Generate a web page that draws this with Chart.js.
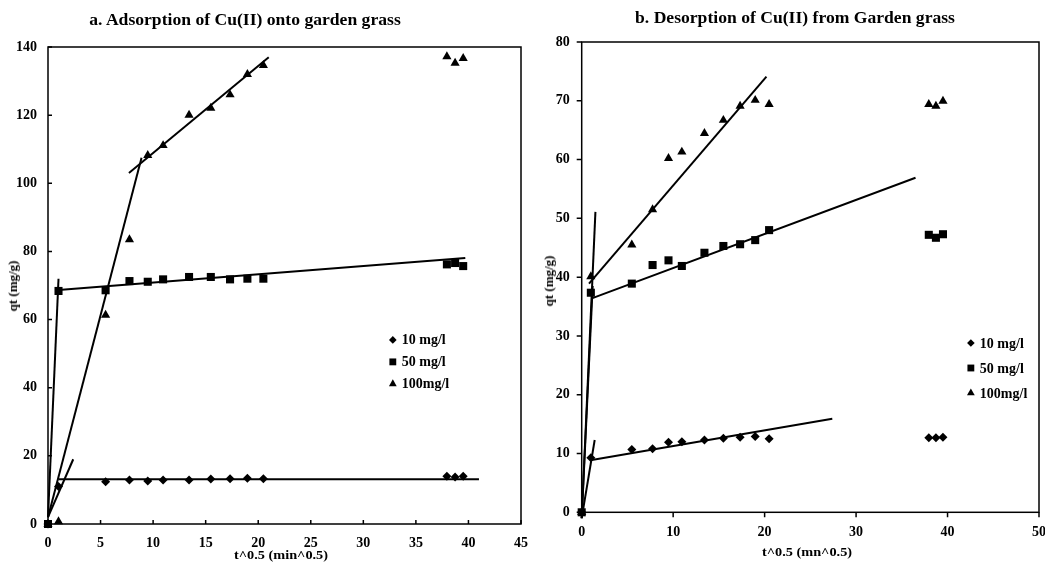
<!DOCTYPE html>
<html>
<head>
<meta charset="utf-8">
<script src="https://cdn.jsdelivr.net/npm/chart.js@4/dist/chart.umd.min.js"></script>
<style>
  html, body { margin: 0; padding: 0; background: #fff; overflow: hidden; }
  body { width: 1045px; height: 563px; position: relative; }
  canvas { position: absolute; top: 0; }
  #left { left: 0; }
  #right { left: 525px; }
  .txt {
    position: absolute;
    font-family: "Liberation Serif", "Times New Roman", serif;
    font-weight: bold;
    color: #000;
    white-space: nowrap;
    transform: translate(-50%, -50%) scaleX(1.1);
  }
  .title { font-size: 16px; }
  .axis { font-size: 13px; }
  .rot { transform: translate(-50%, -50%) rotate(-90deg); }
</style>
</head>
<body>
<canvas id="left" width="539" height="563"></canvas>
<canvas id="right" width="533" height="563"></canvas>

<div class="txt title" style="left:245px; top:20px;">a. Adsorption of Cu(II) onto garden grass</div>
<div class="txt title" style="left:795px; top:18px;">b. Desorption of Cu(II) from Garden grass</div>
<div class="txt axis" style="left:281px; top:555px;">t^0.5 (min^0.5)</div>
<div class="txt axis" style="left:807px; top:552px;">t^0.5 (mn^0.5)</div>
<div class="txt axis rot" style="left:13px; top:286px;">qt (mg/g)</div>
<div class="txt axis rot" style="left:549px; top:281px;">qt (mg/g)</div>

<script>
// sqrt of contact time (min^0.5), same for every series
const tSqrt = [0, 1, 5.48, 7.75, 9.49, 10.95, 13.42, 15.49, 17.32, 18.97, 20.49, 37.95, 38.73, 39.5];

// a. adsorption, qt (mg/g)
const adsorb10 = [0, 11.0, 12.4, 12.9, 12.6, 12.9, 12.9, 13.2, 13.3, 13.4, 13.3, 14.0, 13.8, 14.0];
const adsorb50 = [0, 68.4, 68.6, 71.3, 71.1, 71.8, 72.5, 72.5, 71.8, 72.0, 72.0, 76.2, 76.6, 75.7];
const adsorb100 = [0, 0.7, 61.3, 83.5, 108.2, 111.1, 120.0, 122.1, 126.0, 132.0, 134.6, 137.2, 135.3, 136.7];

// b. desorption, qt (mg/g)
const desorb10 = [0, 9.3, 10.7, 10.8, 11.9, 12.0, 12.3, 12.6, 12.75, 12.9, 12.5, 12.7, 12.7, 12.75];
const desorb50 = [0, 37.35, 38.9, 42.06, 42.86, 41.9, 44.15, 45.3, 45.6, 46.3, 48.0, 47.2, 46.7, 47.3];
const desorb100 = [0, 40.1, 45.5, 51.5, 60.2, 61.3, 64.45, 66.7, 69.1, 70.1, 69.4, 69.4, 69.1, 69.95];

// straight-line fits drawn on the figure: [x0, y0, x1, y1]
const adsFits = [
  [0, 2, 2.4, 19],
  [1, 13.1, 41, 13.1],
  [0, 2, 1, 72],
  [0.7, 68.6, 39.7, 78.1],
  [0, 2, 8.9, 107.5],
  [7.7, 103, 21, 137]
];
const desFits = [
  [0, -1, 1.42, 12.3],
  [1.1, 8.9, 27.4, 15.9],
  [0, -1, 1.2, 38.5],
  [1.1, 36.4, 36.5, 56.9],
  [0, -1, 1.5, 51.1],
  [0.8, 38.9, 20.2, 74.1]
];

const seriesLabels = ["10 mg/l", "50 mg/l", "100mg/l"];
const seriesShapes = ["rectRot", "rect", "triangle"];
const seriesRadius = [4.5, 5.7, 5.3];

const serif = "'Liberation Serif', 'Times New Roman', serif";

function pts(ys) {
  return tSqrt.map((x, i) => ({ x, y: ys[i] }));
}

function buildSets(seriesList, fits) {
  const sets = seriesList.map((ys, i) => ({
    label: seriesLabels[i],
    data: pts(ys),
    pointStyle: seriesShapes[i],
    pointRadius: seriesRadius[i],
    pointHoverRadius: seriesRadius[i],
    backgroundColor: "#000",
    borderColor: "#000",
    borderWidth: 0,
    showLine: false,
    clip: false,
    key: true
  }));
  fits.forEach((f) => {
    sets.push({
      data: [{ x: f[0], y: f[1] }, { x: f[2], y: f[3] }],
      showLine: true,
      borderColor: "#000",
      borderWidth: 2,
      pointRadius: 0,
      clip: false
    });
  });
  return sets;
}

// box round the plot + tick marks (inward or outward)
const frame = {
  id: "frame",
  afterDraw(chart, args, opts) {
    const { ctx, chartArea: a, scales } = chart;
    ctx.save();
    ctx.strokeStyle = "#000";
    ctx.lineWidth = opts.width;
    ctx.strokeRect(a.left, a.top, a.right - a.left, a.bottom - a.top);
    const d = opts.inward ? -1 : 1;
    ctx.beginPath();
    scales.x.ticks.forEach((t, i) => {
      const px = scales.x.getPixelForTick(i);
      ctx.moveTo(px, a.bottom);
      ctx.lineTo(px, a.bottom + d * opts.len);
    });
    scales.y.ticks.forEach((t, i) => {
      const py = scales.y.getPixelForTick(i);
      ctx.moveTo(a.left, py);
      ctx.lineTo(a.left - d * opts.len, py);
    });
    ctx.stroke();
    ctx.restore();
  }
};

// legend inside the plot
const keyBox = {
  id: "keyBox",
  afterDraw(chart, args, opts) {
    const { ctx, chartArea: a } = chart;
    const x = a.left + opts.fx * (a.right - a.left);
    let y = a.top + opts.fy * (a.bottom - a.top);
    ctx.save();
    ctx.fillStyle = "#000";
    ctx.strokeStyle = "#000";
    ctx.font = "bold 14px " + serif;
    ctx.textBaseline = "middle";
    chart.data.datasets.filter((d) => d.key).forEach((d) => {
      Chart.helpers.drawPoint(ctx, { pointStyle: d.pointStyle, radius: d.pointRadius * 0.85, rotation: 0, borderWidth: 0 }, x, y);
      ctx.fillText(d.label, x + 9, y + 1);
      y += opts.gap;
    });
    ctx.restore();
  }
};

function makeChart(id, sets, cfg) {
  const tickFont = { family: serif, size: 14, weight: "bold" };
  return new Chart(document.getElementById(id), {
    type: "scatter",
    data: { datasets: sets },
    options: {
      responsive: false,
      animation: false,
      layout: { padding: cfg.padding },
      plugins: {
        legend: { display: false },
        tooltip: { enabled: false },
        frame: cfg.frame,
        keyBox: cfg.key
      },
      scales: {
        x: {
          type: "linear",
          min: 0,
          max: cfg.xMax,
          grid: { display: false, drawTicks: false },
          border: { display: false },
          ticks: { stepSize: cfg.xStep, color: "#000", font: tickFont, padding: cfg.xPad, maxRotation: 0 },
          afterFit: (s) => { s.height = cfg.xH; }
        },
        y: {
          type: "linear",
          min: 0,
          max: cfg.yMax,
          grid: { display: false, drawTicks: false },
          border: { display: false },
          ticks: { stepSize: cfg.yStep, color: "#000", font: tickFont, padding: cfg.yPad },
          afterFit: (s) => { s.width = cfg.yW; }
        }
      }
    },
    plugins: [frame, keyBox]
  });
}

makeChart("left", buildSets([adsorb10, adsorb50, adsorb100], adsFits), {
  padding: { top: 47, right: 4, left: 0, bottom: 0 },
  xMax: 45, xStep: 5, yMax: 140, yStep: 20,
  xH: 39, yW: 48, xPad: 11, yPad: 11,
  frame: { width: 1.5, inward: true, len: 4 },
  key: { fx: 0.729, fy: 0.614, gap: 22 }
});

makeChart("right", buildSets([desorb10, desorb50, desorb100], desFits), {
  padding: { top: 42, right: 4, left: 0, bottom: 0 },
  xMax: 50, xStep: 10, yMax: 80, yStep: 10,
  xH: 50.7, yW: 56.7, xPad: 12, yPad: 12,
  frame: { width: 1.5, inward: false, len: 5 },
  key: { fx: 0.851, fy: 0.64, gap: 25 }
});
</script>
</body>
</html>
